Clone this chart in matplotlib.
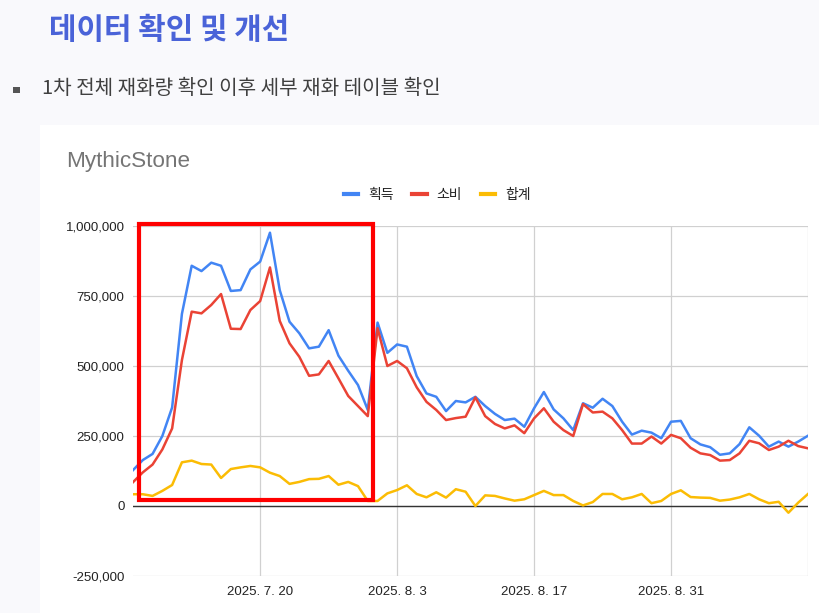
import numpy as np
import matplotlib
matplotlib.use('Agg')
import matplotlib.pyplot as plt
from matplotlib.lines import Line2D
from matplotlib.patches import Rectangle
from matplotlib.ticker import FuncFormatter

# 날짜 (2025.7.7 ~ 2025.9.14, 일 단위)
dates = np.arange('2025-07-07', '2025-09-15', dtype='datetime64[D]')

# 획득 (천 단위)
gain = [128, 164, 186, 250, 352, 686, 858, 839, 869, 858,
        768, 771, 845, 873, 976, 771, 658, 617, 563, 569,
        628, 537, 483, 432, 343, 655, 547, 577, 569, 464,
        402, 390, 339, 375, 370, 390, 357, 329, 307, 312,
        283, 349, 407, 345, 313, 271, 367, 351, 383, 357,
        301, 255, 269, 262, 242, 301, 304, 242, 220, 210,
        183, 188, 221, 281, 251, 212, 230, 212, 230, 251]

# 소비
spend = [85, 120, 148, 202, 277, 521, 694, 688, 718, 757,
         633, 632, 700, 732, 852, 661, 581, 533, 465, 470,
         518, 456, 393, 357, 321, 635, 500, 518, 492, 424,
         372, 343, 307, 314, 319, 388, 321, 293, 277, 288,
         260, 313, 349, 301, 271, 250, 364, 334, 337, 313,
         271, 223, 223, 248, 223, 254, 242, 208, 188, 182,
         162, 164, 188, 233, 224, 200, 212, 233, 214, 206]

# 합계
total = [42, 42, 36, 54, 75, 156, 162, 150, 148, 100,
         132, 138, 143, 138, 119, 107, 79, 86, 96, 97,
         107, 76, 86, 71, 18, 18, 45, 57, 74, 43,
         31, 49, 30, 60, 51, 0, 38, 36, 27, 19,
         24, 39, 54, 39, 39, 18, 2, 14, 43, 43,
         24, 31, 43, 10, 18, 43, 56, 32, 30, 29,
         19, 23, 31, 43, 24, 10, 15, -24, 12, 43]

tick_dates = np.array(['2025-07-20', '2025-08-03', '2025-08-17',
                       '2025-08-31', '2025-09-14'], dtype='datetime64[D]')
tick_labels = ['2025. 7. 20', '2025. 8. 3', '2025. 8. 17', '2025. 8. 31', '']
y_ticks = [-250000, 0, 250000, 500000, 750000, 1000000]

series = [('획득', gain, '#4285f4'),
          ('소비', spend, '#ea4335'),
          ('합계', total, '#fbbc04')]

KR = ['Noto Sans CJK KR', 'DejaVu Sans']
LAT = ['Liberation Sans', 'DejaVu Sans']

W, H = 819, 613
fig = plt.figure(figsize=(W / 100, H / 100), dpi=100, facecolor='#f9f9fc')

# 차트 패널 (흰 배경)
fig.patches.append(Rectangle((40 / W, 0), 1 - 40 / W, 1 - 125 / H,
                             transform=fig.transFigure, facecolor='white',
                             edgecolor='none', zorder=-5))

# 상단 제목
fig.text(49 / W, 1 - 30 / H, '데이터 확인 및 개선', fontsize=21.5, fontweight='heavy',
         color='#4a63d8', family=KR, va='center', ha='left')
# 글머리 기호
fig.patches.append(Rectangle((13 / W, 1 - 93 / H), 7 / W, 6 / H,
                             transform=fig.transFigure, facecolor='#555555',
                             edgecolor='none'))
fig.text(42 / W, 1 - 89 / H, '1차 전체 재화량 확인 이후 세부 재화 테이블 확인',
         fontsize=14.5, fontweight='medium', color='#404040', family=KR,
         va='center', ha='left')

# 차트 제목
fig.text(66 / W, 1 - 161 / H, 'MythicStone', fontsize=16.2, color='#757575',
         family=LAT, va='center', ha='left')

ax = fig.add_axes([133 / W, 1 - 576 / H, 675 / W, 350 / H])
ax.set_facecolor('white')

for name, vals, color in series:
    ax.plot(dates, np.array(vals) * 1000, color=color, lw=1.8, label=name,
            solid_joinstyle='round', zorder=3)

ax.axhline(0, color='#333333', lw=1, zorder=2)
ax.set_xlim(dates[0], dates[-1])
ax.set_ylim(-250000, 1000000)
ax.set_yticks(y_ticks)
ax.yaxis.set_major_formatter(FuncFormatter(lambda v, p: f'{v:,.0f}'))
ax.set_xticks(tick_dates)
ax.set_xticklabels(tick_labels)
ax.grid(True, color='#d0d0d0', lw=0.9)
ax.set_axisbelow(True)
for s in ax.spines.values():
    s.set_visible(False)
ax.tick_params(length=0, labelsize=9.5, labelcolor='#222222')
ax.tick_params(axis='y', pad=6)
ax.tick_params(axis='x', pad=7)
for lab in ax.get_xticklabels() + ax.get_yticklabels():
    lab.set_family(LAT)

# 범례
handles = [Line2D([], [], color=c, lw=3) for _, _, c in series]
fig.legend(handles, [n for n, _, _ in series], loc='center',
           bbox_to_anchor=(437 / W, 1 - 195 / H), ncol=3, frameon=False,
           prop={'family': KR, 'size': 10},
           handlelength=1.05, handletextpad=0.7, columnspacing=1.35,
           labelcolor='#222222')

# 강조 박스
fig.patches.append(Rectangle((139.3 / W, 1 - 500 / H), (372.7 - 139.3) / W,
                             (500 - 224) / H, transform=fig.transFigure,
                             facecolor='none', edgecolor='#ff0000', lw=3, zorder=10))

fig.savefig('out.png', dpi=100, facecolor=fig.get_facecolor())
